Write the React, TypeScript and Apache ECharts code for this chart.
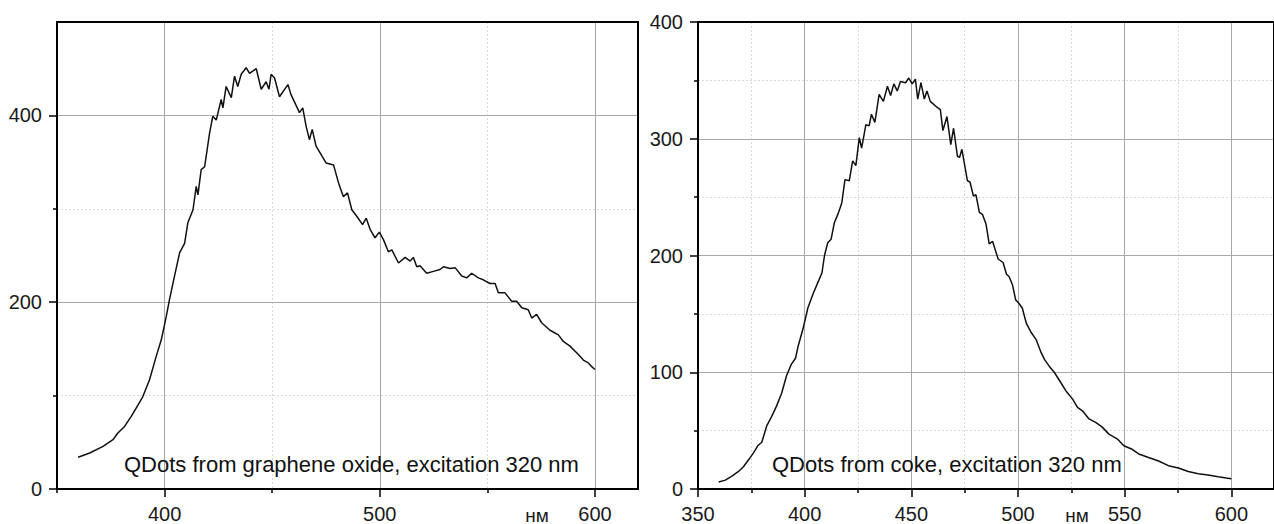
import React, { useEffect, useRef } from "react";
import * as echarts from "echarts";

// ---- Data ----
const goWavelength = [
  359.8, 365.2, 371.4, 376, 378.3, 381.4, 384.5, 386.8, 389.9, 393, 396.1, 398.5, 400.8, 402.3, 404.6, 407,
  409.3, 410.8, 413.2, 414.7, 415.5, 417, 418.6, 420.9, 422.4, 424, 426.3, 427.1, 428.6, 431, 432.5, 434,
  435.6, 437.9, 439.5, 442.6, 444.9, 447.2, 448.5, 449.5, 451.1, 453.4, 457.3, 458.8, 462.7, 464.2, 465.8,
  467.3, 468.6, 470.4, 475.1, 478.5, 480.8, 483.1, 485, 487, 489.3, 492, 493.7, 495.5, 497.8, 499.8, 501.7,
  504, 505.6, 508.7, 511.8, 514.1, 515.6, 517.2, 518.7, 521.8, 524.9, 528, 529.6, 532.7, 535, 538.1, 540.4,
  542.7, 545.8, 548.1, 551.2, 553.6, 555.1, 558.2, 561.3, 563.6, 566, 569, 570.6, 572.9, 575.2, 579.1, 583,
  585.3, 588.4, 592.3, 594.6, 596.9, 598.5, 600,
];
const goIntensity = [
  34, 38.5, 45.6, 52.8, 60, 67, 77.7, 86.7, 99, 117, 142, 160, 185, 203, 228, 253,
  263, 285, 299, 324, 315, 342, 345, 381, 399, 395, 417, 408, 431, 419, 442, 431,
  444, 451, 445, 450, 428, 436, 428, 444, 440, 420, 433, 422, 403, 408, 388,
  374, 385, 367, 349, 347, 328, 313, 317, 299, 292, 283, 290, 278, 269, 275, 267,
  254, 256, 242, 248, 244, 248, 238, 239, 231, 233, 235, 238, 236, 237, 228, 226,
  231, 226, 224, 220, 220, 210, 210, 201, 201, 194, 192, 183, 187, 178, 170, 165,
  158, 153, 144, 138, 135, 131, 128,
];

const cokeWavelength = [
  359.7, 362.8, 365.9, 369, 371.3, 373.7, 376, 378, 379.9, 382.2, 384.5, 386.8, 389.2, 391.5, 393.8, 395.7,
  396.9, 399.2, 401.5, 403.9, 406.2, 408.1, 409.3, 410.8, 412.4, 413.9, 415.5, 417.4, 418.9, 420.9, 422.5,
  424, 425.6, 426.7, 428.7, 430.2, 431.3, 432.9, 434.9, 436.9, 438.8, 440.3, 441.8, 443.4, 444.9, 447.3,
  448.8, 450.4, 451.9, 453, 454.5, 456.1, 457.3, 458.9, 462, 463.6, 464.8, 466.7, 468.5, 469.8, 471.6,
  472.6, 473.7, 476.3, 477.5, 479.1, 480.3, 481.9, 483.4, 485, 486.5, 488.1, 490.7, 493, 494.6, 495.8,
  497.4, 498.9, 500, 502, 503.9, 506.2, 508.5, 510.8, 512.4, 514.7, 517, 520.1, 522.5, 525.6, 527.9,
  530.2, 533.3, 536.4, 539.5, 542.6, 546.5, 549.6, 553.5, 556.6, 561.2, 565.9, 570.5, 575.2, 579.8,
  584.5, 589.1, 593.8, 597.6, 600,
];
const cokeIntensity = [
  6, 7.6, 11, 15, 19, 25, 31, 37, 40, 54, 62, 71, 82, 97, 107, 112,
  122, 137, 155, 167, 177, 185, 200, 211, 214, 228, 235, 245, 265, 264, 281,
  277, 301, 292, 312, 311, 321, 314, 338, 332, 345, 337, 347, 341, 349, 348,
  352, 347, 351, 334, 348, 334, 341, 332, 327, 325, 307, 319, 295, 309, 285,
  284, 291, 264, 263, 251, 252, 237, 235, 227, 210, 212, 197, 194, 184, 182,
  175, 162, 160, 155, 142, 134, 128, 117, 111, 105, 100, 91, 84, 77, 70,
  67, 60, 57, 53, 47, 43, 37, 34, 30, 27, 24, 20, 18, 15,
  13, 12, 10.5, 9.4, 8.8,
];

// ---- Tick values ----
const leftXTicks = [400, 500, 600];
const leftXMinor = [350, 450, 550];
const leftYTicks = [0, 200, 400];
const leftYMinor = [100, 300];
const rightXTicks = [350, 400, 450, 500, 550, 600];
const rightXMinor = [375, 425, 475, 525, 575];
const rightYTicks = [0, 100, 200, 300, 400];
const rightYMinor = [50, 150, 250, 350];

const leftCaption = "QDots from graphene oxide, excitation 320 nm";
const rightCaption = "QDots from coke, excitation 320 nm";
const unitLabel = "нм";

const FONT = "'Liberation Sans', Arial, sans-serif";
const MAJOR_GRID = "#a8a8a8";
const MINOR_GRID = "#d9d9d9";

function mainAxis(kind: "x" | "y", gridIndex: number, min: number, max: number, ticks: number[]) {
  return {
    type: "value",
    gridIndex,
    min,
    max,
    position: kind === "x" ? "bottom" : "left",
    axisLine: { show: true, onZero: false, lineStyle: { color: "#000", width: 2 } },
    axisTick: { show: true, customValues: ticks, length: 8, lineStyle: { color: "#000", width: 1.5 } },
    axisLabel: {
      show: true,
      customValues: ticks,
      margin: 15,
      color: "#1a1a1a",
      fontSize: 20,
      fontFamily: FONT,
    },
    splitLine: { show: true, lineStyle: { color: MAJOR_GRID, width: 1 } },
    z: 3,
  };
}

function minorAxis(kind: "x" | "y", gridIndex: number, min: number, max: number, ticks: number[]) {
  return {
    type: "value",
    gridIndex,
    min,
    max,
    position: kind === "x" ? "bottom" : "left",
    axisLine: { show: false, onZero: false },
    axisTick: { show: true, customValues: ticks, length: 4, lineStyle: { color: "#000", width: 1.5 } },
    axisLabel: { show: false, customValues: ticks },
    splitLine: { show: true, lineStyle: { color: MINOR_GRID, width: 1, type: [2, 2] } },
    z: 2,
  };
}

function pairs(xs: number[], ys: number[]) {
  return xs.map((x, i) => [x, ys[i]]);
}

export default function App() {
  const ref = useRef<HTMLDivElement>(null);
  useEffect(() => {
    const chart = echarts.init(ref.current!, null, { renderer: "svg" });
    const option = {
      animation: false,
      backgroundColor: "#ffffff",
      textStyle: { fontFamily: FONT },
      grid: [
        { left: 57, top: 22, width: 581, height: 467, show: true, borderColor: "#000", borderWidth: 2, z: 4 },
        { left: 698, top: 22, width: 581, height: 467, show: true, borderColor: "#000", borderWidth: 2, z: 4 },
      ],
      xAxis: [
        mainAxis("x", 0, 350, 620, leftXTicks),
        minorAxis("x", 0, 350, 620, leftXMinor),
        mainAxis("x", 1, 350, 620, rightXTicks),
        minorAxis("x", 1, 350, 620, rightXMinor),
      ],
      yAxis: [
        mainAxis("y", 0, 0, 500, leftYTicks),
        minorAxis("y", 0, 0, 500, leftYMinor),
        mainAxis("y", 1, 0, 400, rightYTicks),
        minorAxis("y", 1, 0, 400, rightYMinor),
      ],
      series: [
        {
          type: "line",
          xAxisIndex: 0,
          yAxisIndex: 0,
          data: pairs(goWavelength, goIntensity),
          symbol: "none",
          lineStyle: { color: "#111", width: 1.5 },
          silent: true,
          z: 5,
        },
        {
          type: "line",
          xAxisIndex: 2,
          yAxisIndex: 2,
          data: pairs(cokeWavelength, cokeIntensity),
          symbol: "none",
          lineStyle: { color: "#111", width: 1.5 },
          silent: true,
          z: 5,
        },
      ],
      graphic: [
        {
          type: "text",
          x: 124,
          y: 464,
          z: 10,
          style: { text: leftCaption, fill: "#111", fontSize: 22, fontFamily: FONT, align: "left", verticalAlign: "middle" },
        },
        {
          type: "text",
          x: 772,
          y: 464,
          z: 10,
          style: { text: rightCaption, fill: "#111", fontSize: 22, fontFamily: FONT, align: "left", verticalAlign: "middle" },
        },
        {
          type: "text",
          x: 537,
          y: 515,
          z: 10,
          style: { text: unitLabel, fill: "#1a1a1a", fontSize: 19, fontFamily: FONT, align: "center", verticalAlign: "middle" },
        },
        {
          type: "text",
          x: 1077,
          y: 515,
          z: 10,
          style: { text: unitLabel, fill: "#1a1a1a", fontSize: 19, fontFamily: FONT, align: "center", verticalAlign: "middle" },
        },
      ],
    };
    chart.setOption(option as any);
    return () => chart.dispose();
  }, []);
  return (
    <div
      ref={ref}
      style={{ position: "absolute", left: 0, top: 0, width: 1274, height: 524, background: "#fff", overflow: "hidden" }}
    />
  );
}
